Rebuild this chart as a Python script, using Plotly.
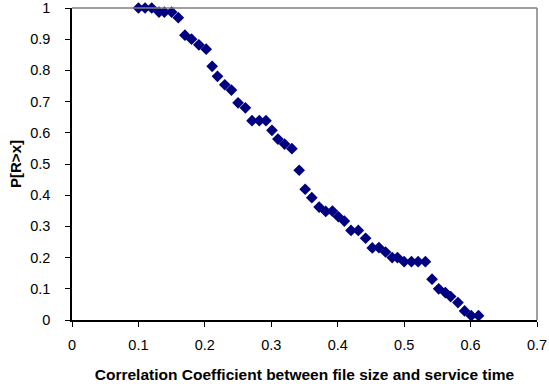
import plotly.graph_objects as go

# Correlation coefficient values and complementary CDF P[R>x]
corr = [0.10, 0.11, 0.12, 0.131, 0.139, 0.150, 0.160, 0.170, 0.180, 0.191,
        0.202, 0.211, 0.219, 0.230, 0.240, 0.250, 0.261, 0.271, 0.282, 0.292,
        0.301, 0.310, 0.320, 0.331, 0.342, 0.351, 0.361, 0.372, 0.382, 0.392,
        0.401, 0.410, 0.420, 0.431, 0.442, 0.452, 0.462, 0.472, 0.482, 0.490,
        0.500, 0.511, 0.521, 0.532, 0.542, 0.552, 0.562, 0.570, 0.581, 0.591,
        0.601, 0.612]
prob = [1.0, 1.0, 1.0, 0.987, 0.987, 0.987, 0.969, 0.913, 0.900, 0.882,
        0.868, 0.813, 0.781, 0.754, 0.737, 0.696, 0.680, 0.639, 0.639, 0.639,
        0.608, 0.580, 0.564, 0.549, 0.480, 0.419, 0.392, 0.362, 0.348, 0.349,
        0.331, 0.317, 0.287, 0.287, 0.262, 0.231, 0.232, 0.218, 0.200, 0.200,
        0.187, 0.187, 0.187, 0.187, 0.131, 0.100, 0.088, 0.075, 0.056, 0.029,
        0.014, 0.014]

x_ticks = [0, 0.1, 0.2, 0.3, 0.4, 0.5, 0.6, 0.7]
y_ticks = [0, 0.1, 0.2, 0.3, 0.4, 0.5, 0.6, 0.7, 0.8, 0.9, 1]

fig = go.Figure()
fig.add_trace(go.Scatter(
    x=corr, y=prob, mode="markers",
    marker=dict(symbol="diamond", size=9, color="#000080", line=dict(width=0)),
    cliponaxis=False, showlegend=False,
))

# Gray plot-area border on the top and right
fig.add_shape(type="line", xref="paper", yref="paper", x0=0, x1=1, y0=1, y1=1,
              line=dict(color="#808080", width=1.5))
fig.add_shape(type="line", xref="paper", yref="paper", x0=1, x1=1, y0=0, y1=1,
              line=dict(color="#808080", width=1.5))

fig.update_layout(
    width=549, height=387,
    margin=dict(l=72, r=12, t=8, b=67, autoexpand=False),
    paper_bgcolor="white", plot_bgcolor="white",
    font=dict(family="Liberation Sans, Arial, sans-serif", color="black"),
    xaxis=dict(
        range=[0, 0.7], tickvals=x_ticks, ticktext=[f"{v:g}" for v in x_ticks],
        showgrid=False, zeroline=False, showline=True, linecolor="black", linewidth=1.5,
        ticks="outside", ticklen=5, tickcolor="black", tickwidth=1,
        tickfont=dict(size=14.5), ticklabelstandoff=6, ticklabeloverflow="allow",
        title=dict(text="<b>Correlation Coefficient between file size and service time</b>",
                   font=dict(size=15.5), standoff=17),
    ),
    yaxis=dict(
        range=[0, 1], tickvals=y_ticks, ticktext=[f"{v:g}" for v in y_ticks],
        showgrid=False, zeroline=False, showline=True, linecolor="black", linewidth=1.5,
        ticks="outside", ticklen=5, tickcolor="black", tickwidth=1,
        tickfont=dict(size=14.5), ticklabelstandoff=12, ticklabeloverflow="allow",
        title=dict(text="<b>P[R>x]</b>", font=dict(size=15), standoff=5),
    ),
)

fig.write_html("out.html")
